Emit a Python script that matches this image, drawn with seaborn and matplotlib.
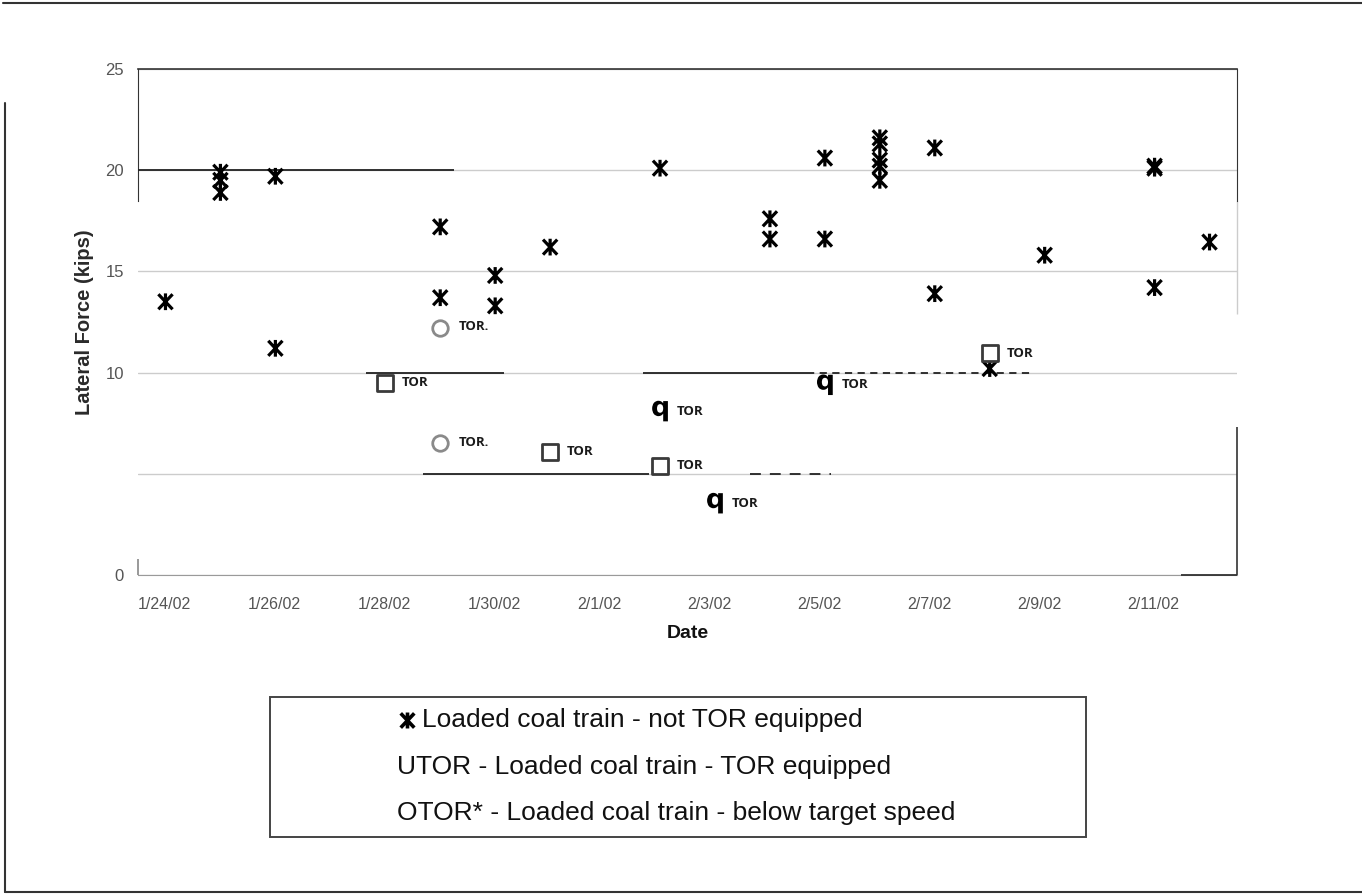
import pandas as pd
import matplotlib
matplotlib.use('Agg')
import matplotlib.pyplot as plt
from matplotlib.path import Path
from matplotlib.lines import Line2D
from matplotlib.patches import Rectangle
import seaborn as sns

# values (one point per reading, Excel puts them mid-day)
star_dates = ['2002-01-24', '2002-01-25', '2002-01-25', '2002-01-25', '2002-01-26', '2002-01-26',
              '2002-01-29', '2002-01-29', '2002-01-30', '2002-01-30', '2002-01-31', '2002-02-02',
              '2002-02-04', '2002-02-04', '2002-02-05', '2002-02-05',
              '2002-02-06', '2002-02-06', '2002-02-06', '2002-02-06', '2002-02-06',
              '2002-02-07', '2002-02-07', '2002-02-08', '2002-02-09',
              '2002-02-11', '2002-02-11', '2002-02-11', '2002-02-12']
star_force = [13.5, 19.9, 19.5, 18.9, 19.7, 11.2,
              17.2, 13.7, 14.8, 13.3, 16.2, 20.1,
              17.6, 16.6, 20.6, 16.6,
              21.6, 21.3, 20.5, 20.2, 19.5,
              21.1, 13.9, 10.2, 15.8,
              20.2, 20.1, 14.2, 16.45]

tor_dates = ['2002-01-28', '2002-01-31', '2002-02-02', '2002-02-08']
tor_force = [9.5, 6.1, 5.4, 10.95]

q_dates = ['2002-02-02', '2002-02-03', '2002-02-05']
q_force = [8.1, 3.55, 9.4]

slow_dates = ['2002-01-29', '2002-01-29']
slow_force = [12.2, 6.5]

tick_labels = ['1/24/02', '1/26/02', '1/28/02', '1/30/02', '2/1/02',
               '2/3/02', '2/5/02', '2/7/02', '2/9/02', '2/11/02']

legend_lines = ['Loaded coal train - not TOR equipped',
                'UTOR - Loaded coal train - TOR equipped',
                'OTOR* - Loaded coal train - below target speed']

# darker rule fragments left over in the scan: (start, end, level, style)
scan_rules = [('2002-01-24 00:00', '2002-01-29 18:00', 20, '-'),
              ('2002-01-28 03:30', '2002-01-30 16:00', 10, '-'),
              ('2002-02-02 04:30', '2002-02-05 04:00', 10, '-'),
              ('2002-02-05 04:00', '2002-02-09 06:30', 10, (0, (4, 3))),
              ('2002-01-29 04:30', '2002-02-02 07:00', 5, '-'),
              ('2002-02-04 03:30', '2002-02-05 14:30', 5, (0, (6, 5)))]


def frame(dates, force):
    d = pd.DataFrame({'date': pd.to_datetime(dates), 'force': force})
    d['date'] = d['date'] + pd.Timedelta(hours=12)
    return d


stars = frame(star_dates, star_force)
tor = frame(tor_dates, tor_force)
qpts = frame(q_dates, q_force)
slow = frame(slow_dates, slow_force)

sns.set_style('white')
plt.rcParams['font.family'] = ['Liberation Sans', 'DejaVu Sans']

W, H = 1362, 894
fig = plt.figure(figsize=(W / 100, H / 100), dpi=100)
ax = fig.add_axes([138 / W, 1 - 575 / H, (1237 - 138) / W, (575 - 69) / H])

# X with a vertical bar, like the scanned asterisk
star_path = Path([(0, -1), (0, 1), (-0.85, -0.9), (0.85, 0.9), (-0.85, 0.9), (0.85, -0.9)],
                 [Path.MOVETO, Path.LINETO] * 3)

sns.scatterplot(data=stars, x='date', y='force', marker=star_path, s=145,
                facecolor='none', edgecolor='black', linewidth=2.3, ax=ax, legend=False, zorder=5)
sns.scatterplot(data=tor, x='date', y='force', marker='s', s=125,
                facecolor='white', edgecolor='#3a3a3a', linewidth=2.0, ax=ax, legend=False, zorder=5)
sns.scatterplot(data=slow, x='date', y='force', marker='o', s=125,
                facecolor='white', edgecolor='#8a8a8a', linewidth=2.0, ax=ax, legend=False, zorder=5)
sns.scatterplot(data=qpts, x='date', y='force', marker=r'$\mathbf{q}$', s=220,
                facecolor='black', edgecolor='none', linewidth=0, ax=ax, legend=False, zorder=5)

# little TOR tags beside each treated train
for d in (tor, qpts):
    for x, y in zip(d['date'], d['force']):
        ax.annotate('TOR', (x, y), xytext=(12, 0), textcoords='offset points',
                    va='center', ha='left', fontsize=9.5, fontweight='bold',
                    family=['Open Sans', 'DejaVu Sans'], color='#1a1a1a', zorder=6)
for x, y in zip(slow['date'], slow['force']):
    ax.annotate('TOR.', (x, y), xytext=(13, 1), textcoords='offset points',
                va='center', ha='left', fontsize=9.5, fontweight='bold',
                family=['Open Sans', 'DejaVu Sans'], color='#1a1a1a', zorder=6)

for start, end, level, style in scan_rules:
    ax.hlines(level, pd.Timestamp(start), pd.Timestamp(end), colors='#222222',
              linewidth=1.3, linestyles=style, zorder=3)

ax.set_xlim(pd.Timestamp('2002-01-24'), pd.Timestamp('2002-02-13'))
ax.set_ylim(0, 25)
ax.set_yticks([0, 5, 10, 15, 20, 25])
ax.set_yticklabels(['0', '', '10', '15', '20', '25'])
ax.set_xticks(pd.to_datetime(tick_labels, format='%m/%d/%y'))
ax.set_xticklabels(tick_labels, ha='left')
ax.yaxis.grid(True, color='#cccccc', linewidth=1)
ax.xaxis.grid(False)

ax.tick_params(axis='x', direction='out', length=5, width=1, color='#999999',
               pad=11, labelsize=11.5, labelcolor='#555555')
ax.tick_params(axis='y', direction='out', length=5, width=1, color='#999999',
               pad=5, labelsize=12, labelcolor='#555555')

ax.set_xlabel('Date', fontsize=14, fontweight='bold', color='#111111')
ax.xaxis.label.set_va('center')
ax.xaxis.set_label_coords(0.5, -(633 - 575) / 506)
ax.set_ylabel('Lateral Force (kips)', fontsize=14.5, fontweight='bold', color='#2a2a2a')
ax.yaxis.label.set_va('center')
ax.yaxis.set_label_coords(-(138 - 84) / 1099, 0.5)

# spines, patchy like the scan
ax.spines['top'].set_color('#333333')
ax.spines['top'].set_linewidth(1.2)
ax.spines['left'].set_color('#333333')
ax.spines['left'].set_bounds(18.5, 25)
ax.spines['right'].set_color('#333333')
ax.spines['right'].set_bounds(18.5, 25)
ax.spines['bottom'].set_color('#9a9a9a')
xmin, xmax = ax.get_xlim()
ax.vlines(xmin, 0, 0.8, colors='#888888', linewidth=1.2, clip_on=False)
ax.vlines(xmax, 0, 7.3, colors='#333333', linewidth=1.2, clip_on=False)
ax.vlines(xmax, 12.9, 18.5, colors='#cccccc', linewidth=1.0, clip_on=False)
ax.hlines(0, pd.Timestamp('2002-02-11 23:30'), pd.Timestamp('2002-02-13'),
          colors='#333333', linewidth=1.3, clip_on=False, zorder=4)

# legend box as it appears under the plot
fig.add_artist(Rectangle((270 / W, 1 - 837 / H), (1086 - 270) / W, (837 - 697) / H,
                         transform=fig.transFigure, fill=False, edgecolor='#444444', linewidth=1.4))
fig.add_artist(Line2D([407 / W], [1 - 720 / H], transform=fig.transFigure, marker=star_path,
                      markersize=11.5, markeredgewidth=2.6, color='black', linestyle='none'))
fig.text(422 / W, 1 - 720 / H, legend_lines[0], fontsize=19, va='center', ha='left', color='#111111')
fig.text(397 / W, 1 - 767 / H, legend_lines[1], fontsize=19, va='center', ha='left', color='#111111')
fig.text(397 / W, 1 - 813 / H, legend_lines[2], fontsize=19, va='center', ha='left', color='#111111')

# page frame
for xs, ys in [((3, W), (3, 3)), ((5, 5), (103, 892)), ((5, W), (892, 892))]:
    fig.add_artist(Line2D([x / W for x in xs], [1 - y / H for y in ys],
                          transform=fig.transFigure, color='#333333', linewidth=1.5))

fig.savefig('out.png', dpi=100)
